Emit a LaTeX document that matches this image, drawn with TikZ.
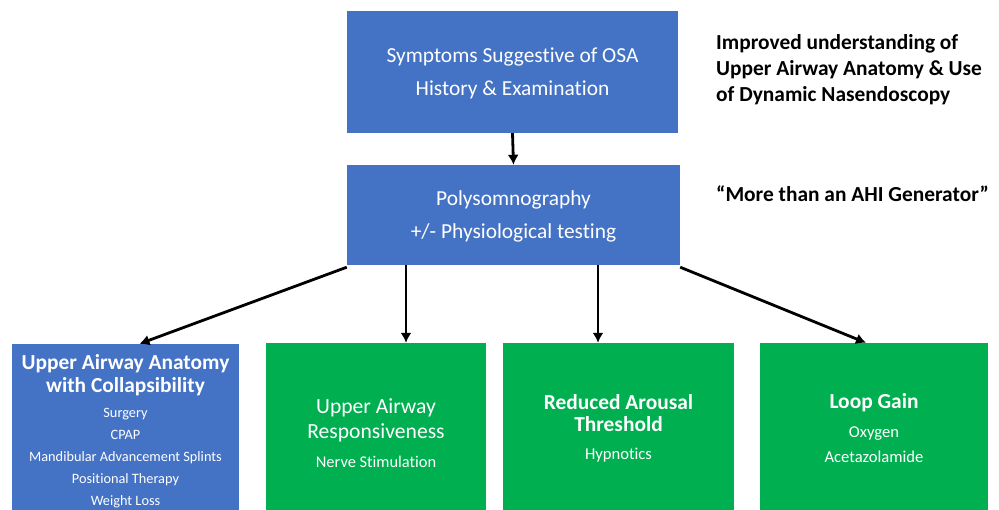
\documentclass[tikz,border=0pt]{standalone}
\usepackage{fontspec}
\setmainfont{Carlito}[Ligatures={TeX,CommonOff}]
\usepackage{xcolor}
\usepackage{tikz}
\usetikzlibrary{positioning, arrows.meta}

\definecolor{boxblue}{HTML}{4472C4}
\definecolor{boxgreen}{HTML}{00B050}

\begin{document}
\begin{tikzpicture}[>={Latex[length=10pt,width=11pt]}, x=1pt, y=-1pt,
    bluebox/.style={fill=boxblue, inner sep=0pt},
    greenbox/.style={fill=boxgreen, inner sep=0pt},
    boxtext/.style={text=white, align=center, inner sep=0pt, yshift=-1.5pt},
    arr/.style={->, line width=2.8pt}]
    % Khung hình
    \useasboundingbox (0,0) rectangle (999,510);
    \clip (0,0) rectangle (999,510);

    % Hai hộp phía trên
    \node[bluebox, minimum width=331, minimum height=122] (sym) at (512.5,72) {};
    \node[boxtext, font=\fontsize{21.4}{33}\selectfont] at (sym.center) {Symptoms Suggestive of OSA\\History \& Examination};
    \node[bluebox, minimum width=333, minimum height=100] (psg) at (513.5,215) {};
    \node[boxtext, font=\fontsize{21.4}{33}\selectfont] at (psg.center) {Polysomnography\\+/- Physiological testing};

    % Chú thích bên phải
    \node[anchor=west, align=left, inner sep=0pt, font=\fontsize{21.4}{26}\selectfont\bfseries] (note1) at (716,70)
        {Improved understanding of\\Upper Airway Anatomy \& Use\\of Dynamic Nasendoscopy};
    \node[anchor=west, inner sep=0pt, font=\fontsize{21.4}{26}\selectfont\bfseries] (note2) at (716,193.5)
        {“More than an AHI Generator”};

    % Bốn hộp phía dưới
    \node[bluebox, minimum width=227, minimum height=200] (anat) at (125.5,444) {};
    \node[greenbox, minimum width=220, minimum height=200] (resp) at (376,443) {};
    \node[greenbox, minimum width=231, minimum height=200] (arou) at (618.5,443) {};
    \node[greenbox, minimum width=228, minimum height=200] (loop) at (874,443) {};

    % Nội dung các hộp
    \node[boxtext, font=\fontsize{21.4}{23}\selectfont\bfseries] (anatT) at (125.5,373.5) {Upper Airway Anatomy\\with Collapsibility};
    \node[boxtext, font=\fontsize{14.3}{22}\selectfont] (anatL) at (125.5,457)
        {Surgery\\CPAP\\Mandibular Advancement Splints\\Positional Therapy\\Weight Loss};
    \node[boxtext, font=\fontsize{21.6}{25}\selectfont] (respT) at (376,418.5) {Upper Airway\\Responsiveness};
    \node[boxtext, font=\fontsize{16.4}{22}\selectfont] (respL) at (376,460) {Nerve Stimulation};
    \node[boxtext, font=\fontsize{21.4}{22}\selectfont\bfseries] (arouT) at (618.5,412) {Reduced Arousal\\Threshold};
    \node[boxtext, font=\fontsize{16.6}{22}\selectfont] (arouL) at (618.5,454) {Hypnotics};
    \node[boxtext, font=\fontsize{21.4}{22}\selectfont\bfseries] (loopT) at (874,401) {Loop Gain};
    \node[boxtext, font=\fontsize{16.6}{25}\selectfont] (loopL) at (874,443.5) {Oxygen\\Acetazolamide};

    % Mũi tên
    \draw[arr] (sym.south) -- (psg.north);
    \draw[arr] ([yshift=-2]psg.south west) -- ([xshift=14]anat.north);
    \draw[arr] ([xshift=-107.5]psg.south) -- ([xshift=-107.5]psg.south |- resp.north);
    \draw[arr] ([xshift=84.5]psg.south) -- ([xshift=84.5]psg.south |- arou.north);
    \draw[arr] ([yshift=-2]psg.south east) -- ([xshift=-8]loop.north);
\end{tikzpicture}
\end{document}
